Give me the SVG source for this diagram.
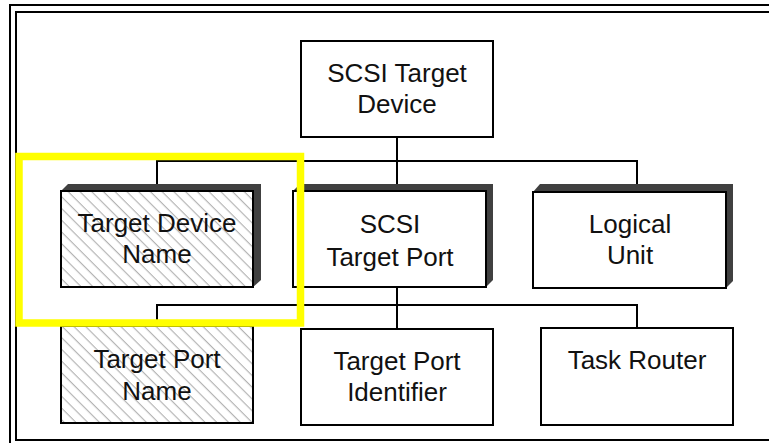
<svg xmlns="http://www.w3.org/2000/svg" width="769" height="443" viewBox="0 0 769 443">
<style>
  .frame { fill: none; stroke: #000; stroke-width: 2; }
  .box { stroke: #000; stroke-width: 2; fill: #fff; }
  .hatched { fill: url(#hatch); }
  .shadow { fill: #404040; }
  .conn { fill: none; stroke: #000; stroke-width: 2; }
  .lbl { font-family: "Liberation Sans", Arial, Helvetica, sans-serif; font-size: 26px; fill: #111; text-anchor: middle; }
  .hl { fill: none; stroke: #ffff00; stroke-width: 7.5; }
</style>
<defs>
  <pattern id="hatch" patternUnits="userSpaceOnUse" width="8.3" height="8.3" patternTransform="rotate(-45)">
    <rect width="8.3" height="8.3" fill="#fff"/>
    <line x1="4" y1="-1" x2="4" y2="9.3" stroke="#a8a8a8" stroke-width="1"/>
  </pattern>
</defs>
<rect width="769" height="443" fill="#fff"/>
<rect class="frame" x="10" y="5" width="780" height="460"/>
<rect class="frame" x="16" y="12" width="770" height="428"/>

<g id="connectors">
  <path class="conn" d="M397,137 V161 M157,191 V161 H637 V192"/>
  <path class="conn" d="M397,287 V305 M157,326 V305 H637 V328"/>
  <path class="conn" d="M397,161 V191 M397,305 V329"/>
</g>

<g id="scsi-target-device">
  <rect class="box" x="301" y="41" width="192" height="96"/>
  <text class="lbl" x="397" y="82">SCSI Target</text>
  <text class="lbl" x="397" y="113">Device</text>
</g>

<g id="target-device-name">
  <polygon class="shadow" points="61,191 68,184 261,184 261,280 253,287"/>
  <rect class="box hatched" x="61" y="191" width="192" height="96"/>
  <text class="lbl" x="157" y="232">Target Device</text>
  <text class="lbl" x="157" y="263">Name</text>
</g>

<g id="scsi-target-port">
  <polygon class="shadow" points="293,191 300,184 493,184 493,280 486,287"/>
  <rect class="box" x="293" y="191" width="193" height="96"/>
  <text class="lbl" x="390" y="233">SCSI</text>
  <text class="lbl" x="390" y="266">Target Port</text>
</g>

<g id="logical-unit">
  <polygon class="shadow" points="533,192 540,184 733,184 733,281 726,288"/>
  <rect class="box" x="533" y="192" width="193" height="96"/>
  <text class="lbl" x="630" y="233">Logical</text>
  <text class="lbl" x="630" y="264">Unit</text>
</g>

<g id="target-port-name">
  <rect class="box hatched" x="61" y="326" width="192" height="97"/>
  <text class="lbl" x="157" y="368">Target Port</text>
  <text class="lbl" x="157" y="400">Name</text>
</g>

<g id="target-port-identifier">
  <rect class="box" x="301" y="329" width="192" height="96"/>
  <text class="lbl" x="397" y="370">Target Port</text>
  <text class="lbl" x="397" y="401">Identifier</text>
</g>

<g id="task-router">
  <rect class="box" x="541" y="328" width="192" height="97"/>
  <text class="lbl" x="637" y="369">Task Router</text>
</g>

<g id="highlight">
  <rect class="hl" x="19" y="156.5" width="281.5" height="166.5"/>
</g>
</svg>
